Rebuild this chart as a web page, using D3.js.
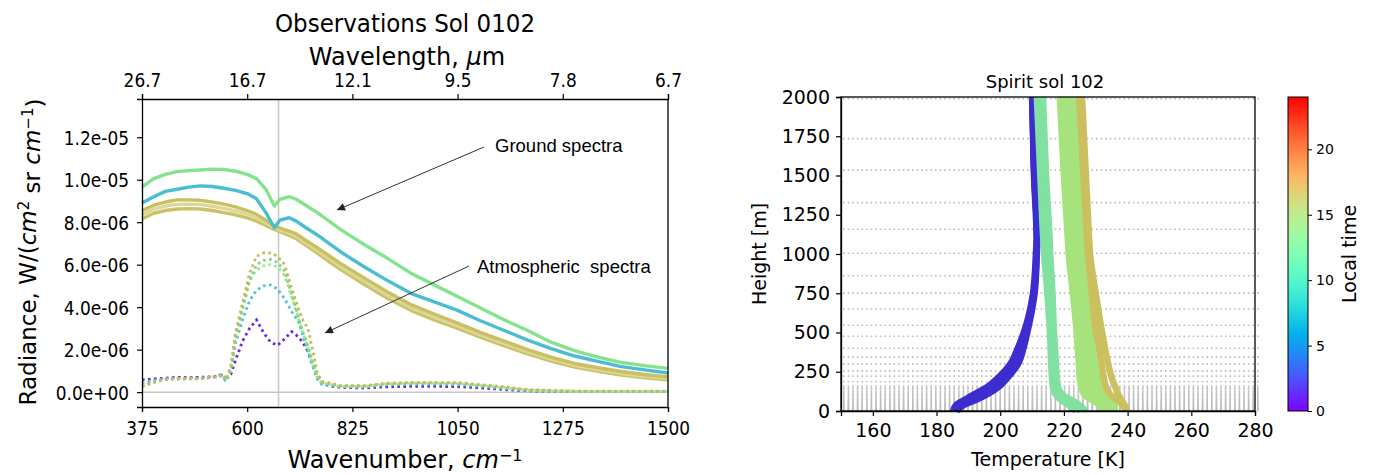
<!DOCTYPE html>
<html>
<head>
<meta charset="utf-8">
<script src="https://cdn.jsdelivr.net/npm/d3@7"></script>
<style>
  body { margin: 0; background: #fff; }
  svg { display: block; }
  text { font-family: "DejaVu Sans", sans-serif; fill: #000; }
</style>
</head>
<body>
<div id="chart"></div>
<script>
// ---------- left panel data (radiance in units of 1e-6 W/(cm2 sr cm-1)) ----------
var unit = 1e-6;
var wnTicks = [375, 600, 825, 1050, 1275, 1500];
var wlTickLabels = ["26.7", "16.7", "12.1", "9.5", "7.8", "6.7"];
var radTicks = [0, 2e-6, 4e-6, 6e-6, 8e-6, 1e-5, 1.2e-5];
var radTickLabels = ["0.0e+00", "2.0e-06", "4.0e-06", "6.0e-06", "8.0e-06", "1.0e-05", "1.2e-05"];
var co2Band = 667;

var groundWn = [375, 400, 425, 450, 475, 500, 525, 550, 575, 600, 620, 640, 658, 670, 690, 705,
  725, 750, 775, 800, 850, 900, 950, 1000, 1050, 1100, 1150, 1200, 1250, 1300, 1350, 1400, 1450, 1500];
var groundGreen = [9.65, 10.05, 10.25, 10.38, 10.43, 10.46, 10.5, 10.48, 10.4, 10.25, 10.05, 9.55, 8.76, 9.08, 9.2, 9.08,
  8.8, 8.45, 8.05, 7.65, 6.95, 6.3, 5.6, 5.05, 4.5, 3.95, 3.4, 2.9, 2.35, 1.95, 1.65, 1.4, 1.25, 1.12];
var groundCyan = [8.9, 9.2, 9.45, 9.55, 9.65, 9.71, 9.68, 9.6, 9.5, 9.35, 9.1, 8.45, 7.74, 8.1, 8.21, 8.05,
  7.75, 7.4, 7.0, 6.6, 5.9, 5.25, 4.65, 4.25, 3.85, 3.35, 2.9, 2.45, 2.05, 1.7, 1.45, 1.2, 1.05, 0.9];
var groundYellow1 = [8.55, 8.8, 8.95, 9.05, 9.05, 9.03, 8.95, 8.85, 8.72, 8.55, 8.37, 8.09, 7.82, 7.72, 7.58, 7.45,
  7.15, 6.8, 6.42, 6.05, 5.38, 4.72, 4.12, 3.68, 3.25, 2.8, 2.4, 2.0, 1.65, 1.35, 1.15, 0.97, 0.83, 0.72];
var groundYellow2 = [8.35, 8.62, 8.76, 8.84, 8.85, 8.83, 8.75, 8.65, 8.53, 8.38, 8.2, 7.97, 7.74, 7.63, 7.48, 7.33,
  7.03, 6.67, 6.28, 5.9, 5.22, 4.56, 3.98, 3.53, 3.12, 2.68, 2.28, 1.9, 1.55, 1.26, 1.06, 0.88, 0.75, 0.65];
var groundYellow3 = [8.15, 8.42, 8.55, 8.62, 8.64, 8.62, 8.55, 8.45, 8.35, 8.2, 8.05, 7.85, 7.66, 7.55, 7.38, 7.22,
  6.92, 6.55, 6.15, 5.77, 5.08, 4.42, 3.85, 3.4, 3.0, 2.58, 2.18, 1.8, 1.46, 1.18, 0.98, 0.8, 0.68, 0.58];

var atmWn = [375, 400, 425, 450, 475, 500, 525, 545, 555, 565, 575, 590, 605, 620, 635, 650, 665, 680, 695, 710,
  720, 730, 740, 750, 760, 775, 800, 850, 900, 950, 1000, 1050, 1100, 1150, 1200, 1250, 1300, 1400, 1500];
var atmPurple = [0.58, 0.62, 0.66, 0.7, 0.68, 0.7, 0.72, 0.8, 0.7, 0.85, 1.5, 2.4, 3.0, 3.4, 2.8, 2.35, 2.2, 2.5, 2.85, 2.6,
  2.3, 1.9, 1.3, 0.8, 0.4, 0.3, 0.22, 0.2, 0.25, 0.27, 0.27, 0.26, 0.2, 0.12, 0.06, 0.04, 0.03, 0.03, 0.03];
var atmCyan = [0.4, 0.55, 0.62, 0.65, 0.65, 0.65, 0.7, 0.75, 0.5, 1.0, 2.3, 3.4, 4.3, 4.8, 5.0, 5.05, 4.85, 4.4, 3.8, 3.3,
  2.6, 1.9, 1.2, 0.6, 0.35, 0.35, 0.25, 0.25, 0.35, 0.38, 0.38, 0.36, 0.28, 0.18, 0.08, 0.05, 0.03, 0.03, 0.03];
var atmLightGreen = [0.28, 0.48, 0.6, 0.63, 0.63, 0.64, 0.69, 0.82, 0.58, 1.15, 2.6, 4.0, 5.3, 5.75, 5.95, 6.0, 5.9, 5.5, 4.5, 3.4,
  2.7, 2.1, 1.3, 0.65, 0.42, 0.38, 0.27, 0.27, 0.39, 0.42, 0.42, 0.41, 0.31, 0.21, 0.09, 0.05, 0.04, 0.04, 0.04];
var atmGreen = [0.25, 0.45, 0.6, 0.62, 0.62, 0.63, 0.68, 0.8, 0.55, 1.1, 2.5, 3.9, 5.2, 6.0, 6.2, 6.25, 6.1, 5.7, 4.6, 3.5,
  2.8, 2.2, 1.4, 0.7, 0.45, 0.4, 0.28, 0.28, 0.4, 0.43, 0.43, 0.42, 0.32, 0.22, 0.1, 0.06, 0.04, 0.04, 0.04];
var atmYellow = [0.3, 0.5, 0.6, 0.65, 0.65, 0.65, 0.7, 0.85, 0.6, 1.2, 2.8, 4.2, 5.6, 6.4, 6.55, 6.55, 6.4, 6.0, 4.9, 3.9,
  3.35, 3.0, 2.0, 0.9, 0.5, 0.45, 0.3, 0.3, 0.42, 0.45, 0.45, 0.45, 0.35, 0.25, 0.12, 0.08, 0.05, 0.05, 0.05];

// ---------- right panel data ----------
var tempTicks = [160, 180, 200, 220, 240, 260, 280];
var heightTicks = [0, 250, 500, 750, 1000, 1250, 1500, 1750, 2000];
var localTimeTicks = [0, 5, 10, 15, 20];
var modelLevels = [3, 7, 11, 16, 21, 27, 33, 40, 47, 55, 63, 72, 81, 91, 101, 112, 123, 135, 147, 159,
  186, 222, 254, 300, 343, 400, 476, 546, 650, 751, 861, 1005, 1158, 1327, 1534, 1735, 1989];
var heights = [0, 40, 70, 100, 150, 200, 300, 400, 500, 750, 1000, 1100, 1500, 2000];
var tNight1 = [185.2, 186.2, 188.7, 191.2, 195.7, 198.7, 203.2, 205.5, 207.4, 210.3, 211.2, 211.4, 210.6, 210.0];
var tNight2 = [185.8, 187.5, 190.5, 193.3, 197.5, 200.3, 204.4, 206.4, 208.0, 210.6, 211.4, 211.6, 210.7, 210.1];
var tNight3 = [186.3, 188.8, 192.3, 195.3, 199.3, 201.8, 205.6, 207.3, 208.5, 210.8, 211.5, 211.6, 210.7, 210.2];
var tMorning1 = [223.8, 221.3, 219.1, 217.6, 216.6, 216.3, 216.0, 215.8, 215.6, 214.8, 213.8, 213.5, 212.6, 211.5];
var tMorning2 = [225.3, 223.0, 220.8, 218.6, 217.4, 217.0, 216.7, 216.5, 216.2, 215.6, 214.7, 214.5, 213.5, 212.5];
var tMorning3 = [226.9, 224.7, 222.5, 219.7, 218.2, 217.8, 217.5, 217.2, 216.9, 216.4, 215.7, 215.5, 214.4, 213.4];
var tNoon1 = [232.0, 231.0, 228.7, 226.5, 225.5, 225.0, 224.7, 224.3, 224.0, 222.8, 221.5, 221.2, 220.0, 218.7];
var tNoon2 = [233.3, 232.7, 230.8, 228.7, 227.5, 226.9, 226.4, 225.9, 225.4, 224.2, 222.9, 222.6, 221.4, 220.1];
var tNoon3 = [234.7, 234.3, 232.9, 230.8, 229.5, 228.9, 228.1, 227.4, 226.9, 225.6, 224.4, 224.1, 222.9, 221.6];
var tNoon4 = [236.0, 236.0, 235.0, 233.0, 231.5, 230.8, 229.8, 229.0, 228.3, 227.0, 225.8, 225.5, 224.3, 223.0];
var tAfternoon1 = [239.3, 238.3, 236.8, 234.8, 233.3, 232.6, 231.8, 231.0, 230.1, 228.8, 227.6, 227.3, 226.1, 224.8];
var tAfternoon2 = [239.9, 239.0, 238.0, 237.2, 236.2, 235.2, 233.9, 232.9, 232.0, 230.0, 228.2, 227.9, 226.9, 225.7];

// matplotlib "rainbow" colormap
function mplRainbow(t) {
    var r = Math.min(1, Math.abs(2 * t - 0.5));
    var g = Math.sin(Math.PI * t);
    var b = Math.cos(Math.PI * t / 2);
    return d3.rgb(r * 255, g * 255, b * 255).formatHex();
}

// squash / stretch axis text vertically, the figure was resized unevenly
function stretchText(sel, k, dx, dy) {
    sel.attr("x", 0).attr("y", 0).attr("dy", null)
        .attr("transform", "translate(" + dx + "," + dy + ") scale(1," + k + ")");
}

function styleAxis(g) {
    g.select(".domain").attr("stroke", "#000").attr("stroke-width", 1.3);
    g.selectAll(".tick line").attr("stroke", "#000").attr("stroke-width", 1.2);
}

var svg = d3.select("#chart").append("svg").attr("width", 1373).attr("height", 475);
var defs = svg.append("defs");

// ================= LEFT PANEL =================
var xL = d3.scaleLinear().domain([375, 1500]).range([142, 668]);
var yL = d3.scaleLinear().domain([-0.7e-6, 13.8e-6]).range([407, 99]);
var left = svg.append("g");

// reference lines
left.append("line")
    .attr("x1", xL(co2Band)).attr("x2", xL(co2Band))
    .attr("y1", yL.range()[1]).attr("y2", yL.range()[0])
    .attr("stroke", "#c6c6c6").attr("stroke-width", 1.5);
left.append("line")
    .attr("x1", xL.range()[0]).attr("x2", xL.range()[1])
    .attr("y1", yL(0)).attr("y2", yL(0))
    .attr("stroke", "#c6c6c6").attr("stroke-width", 1.5);

var lineL = d3.line()
    .x(function(d) { return xL(d[0]); })
    .y(function(d) { return yL(d[1] * unit); });

var groundSeries = [
    {values: groundYellow3, color: "#cbc266"},
    {values: groundYellow2, color: "#dcd69a"},
    {values: groundYellow1, color: "#c9c062"},
    {values: groundCyan, color: "#4bbdd2"},
    {values: groundGreen, color: "#85e38d"}
];
groundSeries.forEach(function(s) {
    left.append("path")
        .datum(d3.zip(groundWn, s.values))
        .attr("d", lineL)
        .attr("fill", "none")
        .attr("stroke", s.color)
        .attr("stroke-width", 3.4)
        .attr("stroke-linejoin", "round");
});

var atmSeries = [
    {values: atmPurple, color: "#6c28e2"},
    {values: atmCyan, color: "#52c3dc"},
    {values: atmLightGreen, color: "#a2e68c"},
    {values: atmGreen, color: "#72dc84"},
    {values: atmYellow, color: "#cdb55a"}
];
atmSeries.forEach(function(s) {
    left.append("path")
        .datum(d3.zip(atmWn, s.values))
        .attr("d", lineL)
        .attr("fill", "none")
        .attr("stroke", s.color)
        .attr("stroke-width", 2.8)
        .attr("stroke-dasharray", "2.6,3.4");
});

// axes
var axBottom = left.append("g").attr("transform", "translate(0,407)")
    .call(d3.axisBottom(xL).tickValues(wnTicks).tickSize(5).tickFormat(d3.format("d")));
var axTop = left.append("g").attr("transform", "translate(0,99)")
    .call(d3.axisTop(xL).tickValues(wnTicks).tickSize(5)
        .tickFormat(function(d, i) { return wlTickLabels[i]; }));
var axLeft = left.append("g").attr("transform", "translate(142,0)")
    .call(d3.axisLeft(yL).tickValues(radTicks).tickSize(5)
        .tickFormat(function(d, i) { return radTickLabels[i]; }));
[axBottom, axTop, axLeft].forEach(function(g) {
    styleAxis(g);
    g.selectAll("text").style("font-size", "17px").style("font-family", "DejaVu Sans");
});
stretchText(axBottom.selectAll("text"), 1.15, 0, 28);
stretchText(axTop.selectAll("text"), 1.15, 0, -12);
stretchText(axLeft.selectAll("text"), 1.15, -13, 7);
left.append("line").attr("x1", 668).attr("x2", 668).attr("y1", 99).attr("y2", 407)
    .attr("stroke", "#000").attr("stroke-width", 1.3);

// titles
left.append("text").attr("transform", "translate(405,32) scale(1,1.1)")
    .attr("text-anchor", "middle").style("font-size", "23px").text("Observations Sol 0102");
var wl = left.append("text").attr("transform", "translate(407,65)")
    .attr("text-anchor", "middle").style("font-size", "24px");
wl.append("tspan").text("Wavelength, ");
wl.append("tspan").style("font-style", "italic").text("\u03bc");
wl.append("tspan").text("m");

var wn = left.append("text").attr("transform", "translate(405,468)")
    .attr("text-anchor", "middle").style("font-size", "24px");
wn.append("tspan").text("Wavenumber, ");
wn.append("tspan").style("font-style", "italic").text("cm");
wn.append("tspan").attr("dy", "-0.45em").style("font-size", "16px").text("\u22121");

var rad = left.append("text").attr("transform", "translate(36,252) rotate(-90)")
    .attr("text-anchor", "middle").style("font-size", "23px");
rad.append("tspan").text("Radiance, W/(");
rad.append("tspan").style("font-style", "italic").text("cm");
rad.append("tspan").attr("dy", "-0.45em").style("font-size", "15px").text("2");
rad.append("tspan").attr("dy", "0.45em").text(" sr ");
rad.append("tspan").style("font-style", "italic").text("cm");
rad.append("tspan").attr("dy", "-0.45em").style("font-size", "15px").text("\u22121");
rad.append("tspan").attr("dy", "0.45em").text(")");

// annotations
defs.append("marker")
    .attr("id", "arrow").attr("viewBox", "0 0 10 10")
    .attr("refX", 10).attr("refY", 5)
    .attr("markerWidth", 9).attr("markerHeight", 8)
    .attr("markerUnits", "userSpaceOnUse")
    .attr("orient", "auto")
    .append("path").attr("d", "M0,0 L10,5 L0,10 z").attr("fill", "#222");

var notes = [
    {label: "Ground spectra", tx: 495, ty: 152, x1: 484, y1: 147, x2: 337, y2: 210},
    {label: "Atmospheric\u00a0 spectra", tx: 477, ty: 273, x1: 469, y1: 266, x2: 325, y2: 333}
];
notes.forEach(function(n) {
    left.append("line")
        .attr("x1", n.x1).attr("y1", n.y1).attr("x2", n.x2).attr("y2", n.y2)
        .attr("stroke", "#333").attr("stroke-width", 1)
        .attr("marker-end", "url(#arrow)");
    left.append("text").attr("x", n.tx).attr("y", n.ty)
        .style("font-family", "Liberation Sans").style("font-size", "18.5px")
        .text(n.label);
});

// ================= RIGHT PANEL =================
var xR = d3.scaleLinear().domain([150, 280]).range([841, 1255]);
var yR = d3.scaleLinear().domain([0, 2000]).range([411, 97]);
var right = svg.append("g");

right.selectAll("line.level")
    .data(modelLevels)
    .enter()
    .append("line")
    .attr("class", "level")
    .attr("x1", xR(150) + 2).attr("x2", xR(280) + 4)
    .attr("y1", function(d) { return yR(d); })
    .attr("y2", function(d) { return yR(d); })
    .attr("stroke", "#bcbcbc").attr("stroke-width", 1.6)
    .attr("stroke-dasharray", "1.6,3");

var profiles = [
    {values: tNight1, color: "#3d2dcf"},
    {values: tNight2, color: "#3d2dcf"},
    {values: tNight3, color: "#3d2dcf"},
    {values: tMorning1, color: "#80e1a0"},
    {values: tMorning2, color: "#80e1a0"},
    {values: tMorning3, color: "#80e1a0"},
    {values: tNoon1, color: "#a6e37c"},
    {values: tNoon2, color: "#a6e37c"},
    {values: tNoon3, color: "#a6e37c"},
    {values: tNoon4, color: "#a6e37c"},
    {values: tAfternoon1, color: "#cbbf5e"},
    {values: tAfternoon2, color: "#cbbf5e"}
];
var lineR = d3.line()
    .x(function(d) { return xR(d[1]); })
    .y(function(d) { return yR(d[0]); })
    .curve(d3.curveMonotoneY);
profiles.forEach(function(p) {
    right.append("path")
        .datum(d3.zip(heights, p.values))
        .attr("d", lineR)
        .attr("fill", "none")
        .attr("stroke", p.color)
        .attr("stroke-width", 6.5)
        .attr("stroke-linecap", "butt");
});

var axRB = right.append("g").attr("transform", "translate(0,411)")
    .call(d3.axisBottom(xR).tickValues(tempTicks).tickSize(5).tickPadding(8));
var axRL = right.append("g").attr("transform", "translate(841,0)")
    .call(d3.axisLeft(yR).tickValues(heightTicks).tickSize(5).tickPadding(6).tickFormat(d3.format("d")));
[axRB, axRL].forEach(function(g) {
    styleAxis(g);
    g.selectAll("text").style("font-size", "19px").style("font-family", "DejaVu Sans");
});
right.append("rect").attr("x", 841).attr("y", 97).attr("width", 414).attr("height", 314)
    .attr("fill", "none").attr("stroke", "#000").attr("stroke-width", 1.3);

right.append("text").attr("x", 1045).attr("y", 88).attr("text-anchor", "middle")
    .style("font-size", "18px").text("Spirit sol 102");
right.append("text").attr("x", 1048).attr("y", 466).attr("text-anchor", "middle")
    .style("font-size", "19px").text("Temperature [K]");
right.append("text").attr("transform", "translate(766,254) rotate(-90)").attr("text-anchor", "middle")
    .style("font-size", "19px").text("Height [m]");

// colorbar
var cScale = d3.scaleLinear().domain([0, 24]).range([411, 97]);
var grad = defs.append("linearGradient")
    .attr("id", "rainbow").attr("x1", 0).attr("y1", 1).attr("x2", 0).attr("y2", 0);
grad.selectAll("stop")
    .data(d3.range(0, 1.0001, 0.05))
    .enter().append("stop")
    .attr("offset", function(d) { return d; })
    .attr("stop-color", function(d) { return mplRainbow(d); });
right.append("rect").attr("x", 1288).attr("y", 97).attr("width", 20).attr("height", 314)
    .attr("fill", "url(#rainbow)").attr("stroke", "#000").attr("stroke-width", 1);
var axC = right.append("g").attr("transform", "translate(1308,0)")
    .call(d3.axisRight(cScale).tickValues(localTimeTicks).tickSize(4).tickPadding(4));
axC.select(".domain").remove();
axC.selectAll(".tick line").attr("stroke", "#000");
axC.selectAll("text").style("font-size", "14px").style("font-family", "DejaVu Sans");
right.append("text").attr("transform", "translate(1356,254) rotate(-90)").attr("text-anchor", "middle")
    .style("font-size", "19px").text("Local time");
</script>
</body>
</html>
